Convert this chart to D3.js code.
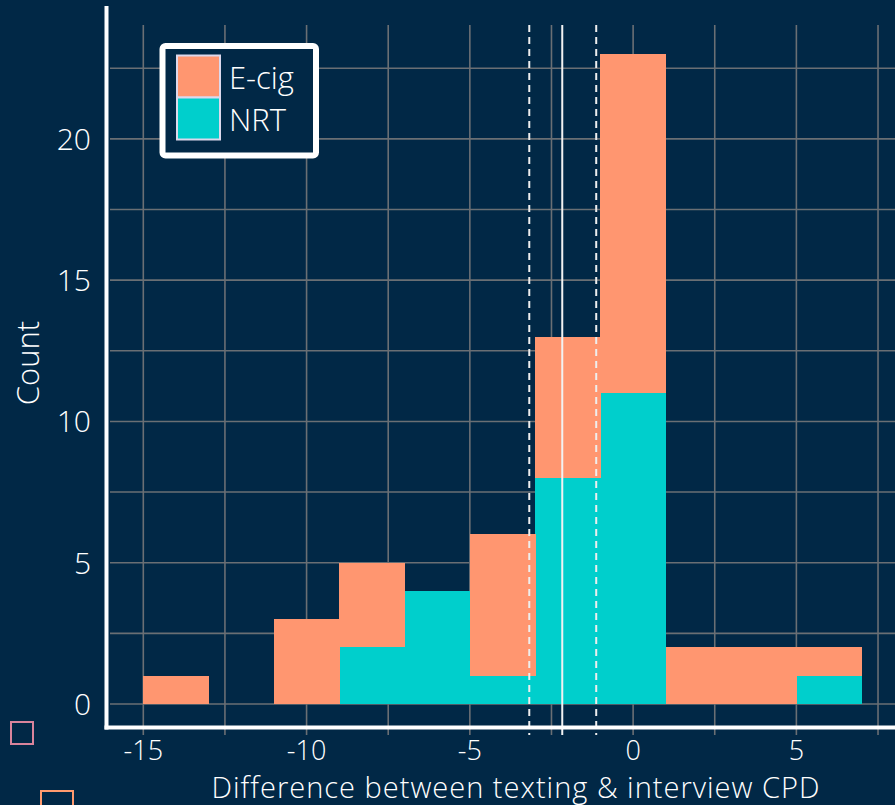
<!DOCTYPE html>
<html>
<head>
<meta charset="utf-8">
<script src="https://cdn.jsdelivr.net/npm/d3@7"></script>
<style>
  html, body { margin: 0; padding: 0; background: #012846; }
  svg { display: block; }
  text { font-family: "Open Sans", "Noto Sans", sans-serif; font-weight: 300; fill: #ffffff; }
</style>
</head>
<body>
<svg id="chart" width="895" height="805"></svg>
<script>
// Histogram bins (width 2), counts stacked per group
const binStarts = [-15, -13, -11, -9, -7, -5, -3, -1, 1, 3, 5];
const binWidth = 2;
const nrtCounts  = [0, 0, 0, 2, 4, 1, 8, 11, 0, 0, 1];
const ecigCounts = [1, 0, 3, 3, 0, 5, 5, 12, 2, 2, 1];
const groups = ["E-cig", "NRT"];
const groupColors = ["#ff9670", "#00cfcc"];

// Mean difference and its 95% interval
const meanDiff = -2.17;
const ciBounds = [-3.18, -1.13];

const xTicks = [-15, -10, -5, 0, 5];
const xMinor = [-12.5, -7.5, -2.5, 2.5, 7.5];
const yTicks = [0, 5, 10, 15, 20];
const yMinor = [2.5, 7.5, 12.5, 17.5, 22.5];

const svg = d3.select("#chart");
const W = 895, H = 805;

const x = d3.scaleLinear().domain([-16.02, 8.02]).range([110, 895]);
const y = d3.scaleLinear().domain([-0.85, 24.03]).range([728, 25]);

const gridColor = "#6a6f74";

// grid
const grid = svg.append("g");
grid.selectAll("line.h").data(yTicks.concat(yMinor)).join("line")
  .attr("x1", 110).attr("x2", W)
  .attr("y1", d => y(d)).attr("y2", d => y(d))
  .attr("stroke", gridColor).attr("stroke-width", 1.6);
grid.selectAll("line.v").data(xTicks.concat(xMinor)).join("line")
  .attr("x1", d => x(d)).attr("x2", d => x(d))
  .attr("y1", 25).attr("y2", 735)
  .attr("stroke", gridColor).attr("stroke-width", 1.6);

// stacked bars: NRT at the bottom, E-cig above
const bars = binStarts.map((s, i) => ({ s, nrt: nrtCounts[i], ecig: ecigCounts[i] }));
const barG = svg.append("g").attr("shape-rendering", "crispEdges");
barG.selectAll("rect.nrt").data(bars.filter(d => d.nrt > 0)).join("rect")
  .attr("x", d => x(d.s)).attr("width", d => x(d.s + binWidth) - x(d.s) + 0.5)
  .attr("y", d => y(d.nrt)).attr("height", d => y(0) - y(d.nrt))
  .attr("fill", groupColors[1]);
barG.selectAll("rect.ecig").data(bars.filter(d => d.ecig > 0)).join("rect")
  .attr("x", d => x(d.s)).attr("width", d => x(d.s + binWidth) - x(d.s) + 0.5)
  .attr("y", d => y(d.nrt + d.ecig)).attr("height", d => y(d.nrt) - y(d.nrt + d.ecig))
  .attr("fill", groupColors[0]);

// mean and interval lines
svg.append("line")
  .attr("x1", x(meanDiff)).attr("x2", x(meanDiff)).attr("y1", 25).attr("y2", 735)
  .attr("stroke", "#f2f2f2").attr("stroke-width", 2);
svg.selectAll("line.ci").data(ciBounds).join("line")
  .attr("x1", d => x(d)).attr("x2", d => x(d)).attr("y1", 25).attr("y2", 735)
  .attr("stroke", "#eeeeee").attr("stroke-width", 2).attr("stroke-dasharray", "7,5");

// axis lines
svg.append("line").attr("x1", 106.5).attr("x2", 106.5).attr("y1", 6).attr("y2", 729.5)
  .attr("stroke", "#ffffff").attr("stroke-width", 4);
svg.append("line").attr("x1", 104.5).attr("x2", W).attr("y1", 727.5).attr("y2", 727.5)
  .attr("stroke", "#ffffff").attr("stroke-width", 4);

// tick labels
svg.append("g").selectAll("text").data(xTicks).join("text")
  .attr("x", d => x(d)).attr("y", 760)
  .attr("text-anchor", "middle").attr("font-size", 27)
  .text(d => d);
svg.append("g").selectAll("text").data(yTicks).join("text")
  .attr("x", 91).attr("y", d => y(d) + 11)
  .attr("text-anchor", "end").attr("font-size", 30)
  .text(d => d);

// axis titles
svg.append("text").attr("x", 516).attr("y", 798)
  .attr("text-anchor", "middle").attr("font-size", 29).attr("letter-spacing", 1)
  .text("Difference between texting & interview CPD");
svg.append("text").attr("transform", "translate(39,363) rotate(-90)")
  .attr("text-anchor", "middle").attr("font-size", 31)
  .text("Count");

// legend
const leg = svg.append("g");
leg.append("rect").attr("x", 162.5).attr("y", 46).attr("width", 153.5).attr("height", 109.5)
  .attr("rx", 3).attr("fill", "#012846").attr("stroke", "#ffffff").attr("stroke-width", 6);
const keyH = 42;
groups.forEach((g, i) => {
  leg.append("rect").attr("x", 177).attr("y", 55.5 + i * keyH).attr("width", 43).attr("height", keyH)
    .attr("fill", groupColors[i]).attr("stroke", "#dcd8ec").attr("stroke-width", 2);
  leg.append("text").attr("x", 229).attr("y", 55.5 + i * keyH + 33)
    .attr("font-size", 31).text(g);
});

// stray key glyphs below the panel
svg.append("rect").attr("x", 11).attr("y", 722).attr("width", 22).attr("height", 22)
  .attr("fill", "none").attr("stroke", "#d9849c").attr("stroke-width", 2);
svg.append("rect").attr("x", 41).attr("y", 791).attr("width", 32).attr("height", 30)
  .attr("fill", "none").attr("stroke", "#ff9a6e").attr("stroke-width", 2);
</script>
</body>
</html>
